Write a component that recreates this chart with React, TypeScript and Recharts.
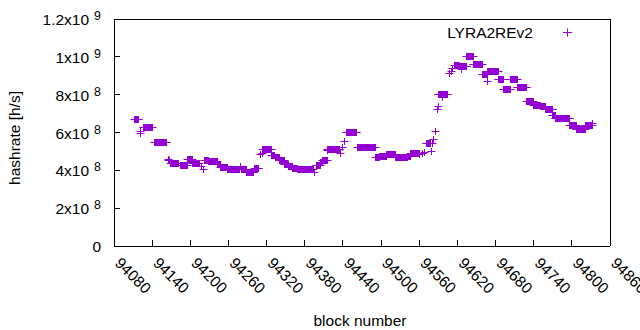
import React from 'react';
import { ScatterChart, Scatter, XAxis, YAxis } from 'recharts';

const SERIES_NAME = 'LYRA2REv2';
const COLOR = '#9400d3';
const FONT = '"Liberation Sans", Arial, sans-serif';

// x ticks (block numbers)
const X_TICKS = [94080, 94140, 94200, 94260, 94320, 94380, 94440, 94500, 94560, 94620, 94680, 94740, 94800, 94860];
// y ticks (hashrate) and their labels
const Y_TICKS = [0, 2e8, 4e8, 6e8, 8e8, 1e9, 1.2e9];
const Y_TICK_MANTISSA = ['0', '2', '4', '6', '8', '1', '1.2'];
const Y_TICK_EXP = ['', '8', '8', '8', '8', '9', '9'];

// runs of consecutive blocks with the same hashrate (value in units of 1e8 h/s)
const runStart = [94113, 94126, 94143, 94166, 94169, 94184, 94196, 94204, 94222, 94229,
  94242, 94248, 94259, 94281, 94289, 94301, 94314, 94328, 94334, 94340,
  94348, 94354, 94360, 94368, 94398, 94404, 94408, 94416, 94445, 94463,
  94492, 94498, 94508, 94522, 94541, 94547, 94571, 94590, 94616, 94624,
  94635, 94645, 94659, 94668, 94684, 94693, 94704, 94714, 94729, 94740,
  94750, 94758, 94770, 94774, 94797, 94808, 94821];
const runEnd = [94119, 94140, 94163, 94168, 94182, 94196, 94203, 94214, 94228, 94242,
  94248, 94259, 94277, 94289, 94300, 94308, 94328, 94333, 94340, 94348,
  94354, 94360, 94368, 94393, 94404, 94408, 94415, 94435, 94462, 94492,
  94498, 94508, 94522, 94541, 94547, 94560, 94578, 94605, 94624, 94635,
  94645, 94659, 94667, 94684, 94693, 94704, 94714, 94729, 94740, 94750,
  94758, 94770, 94774, 94797, 94808, 94821, 94832];
const runValue = [6.7, 6.26, 5.47, 4.5, 4.36, 4.23, 4.55, 4.36, 4.5, 4.47,
  4.33, 4.15, 4.04, 4.04, 3.89, 4.1, 5.1, 4.81, 4.67, 4.5,
  4.33, 4.2, 4.1, 4.04, 4.25, 4.4, 4.5, 5.1, 6.0, 5.2,
  4.68, 4.75, 4.86, 4.68, 4.75, 4.89, 5.4, 8.03, 9.54, 9.5,
  10.04, 9.57, 9.07, 9.25, 8.78, 8.27, 8.78, 8.38, 7.64, 7.44,
  7.35, 7.2, 6.9, 6.74, 6.35, 6.15, 6.38];

// isolated blocks
const singleBlock = [94121, 94122, 94165, 94217, 94220, 94279, 94311, 94313, 94396, 94415,
  94436, 94439, 94442, 94561, 94565, 94568, 94580, 94581, 94583, 94586,
  94588, 94590, 94597, 94607, 94610, 94613, 94626, 94668, 94833];
const singleValue = [6.05, 5.95, 4.55, 4.2, 4.07, 4.2, 4.86, 4.9, 3.9, 5.07,
  4.9, 5.2, 5.55, 4.86, 4.9, 4.92, 4.97, 5.4, 5.65, 6.03,
  7.2, 7.35, 7.85, 9.1, 9.25, 9.4, 9.35, 8.72, 6.48];

const data: { block: number; rate: number }[] = [];
runStart.forEach((s, i) => {
  for (let b = s; b <= runEnd[i]; b++) data.push({ block: b, rate: runValue[i] * 1e8 });
});
singleBlock.forEach((b, i) => data.push({ block: b, rate: singleValue[i] * 1e8 }));
data.sort((a, b) => a.block - b.block);

const Plus = (p: any) => {
  if (p.cx == null || p.cy == null) return null;
  const x = Math.round(p.cx - 0.5) + 0.5;
  const y = Math.round(p.cy - 0.5) + 0.5;
  return (
    <path d={`M${x - 4} ${y}H${x + 4}M${x} ${y - 3.5}V${y + 3.5}`} stroke={COLOR} strokeWidth={1} fill="none" />
  );
};

const BottomTick = (p: any) => {
  const { x, y, payload } = p;
  const ax = x;
  const ay = y + 18;
  return (
    <g>
      <line x1={x} x2={x} y1={y} y2={y - 6} stroke="#000" shapeRendering="crispEdges" />
      <text x={ax} y={ay} transform={`rotate(45 ${ax} ${ay})`} textAnchor="start" fontSize={15.5} fontFamily={FONT} fill="#000">
        {payload.value}
      </text>
    </g>
  );
};

const TopTick = (p: any) => {
  const { x, y } = p;
  return <line x1={x} x2={x} y1={y} y2={y + 6} stroke="#000" shapeRendering="crispEdges" />;
};

const LeftTick = (p: any) => {
  const { x, y, payload } = p;
  const i = Y_TICKS.indexOf(payload.value);
  const m = Y_TICK_MANTISSA[i];
  const e = Y_TICK_EXP[i];
  return (
    <g>
      <line x1={x} x2={x + 6} y1={y} y2={y} stroke="#000" shapeRendering="crispEdges" />
      <text x={x - 13} y={y + 6} textAnchor="end" fontSize={15.5} fontFamily={FONT} fill="#000">
        {e ? `${m}x10` : m}
        {e ? (
          <tspan dx={5} dy={-5} fontSize={12.4}>
            {e}
          </tspan>
        ) : null}
      </text>
    </g>
  );
};

const RightTick = (p: any) => {
  const { x, y } = p;
  return <line x1={x} x2={x - 6} y1={y} y2={y} stroke="#000" shapeRendering="crispEdges" />;
};

export default function App() {
  const axisLine = { stroke: '#000', shapeRendering: 'crispEdges' } as any;
  return (
    <div style={{ position: 'absolute', left: 0, top: 0, width: 640, height: 330, background: '#fff' }}>
      <ScatterChart width={640} height={330} margin={{ top: 0, right: 0, bottom: 0, left: 0 }}>
        <XAxis
          xAxisId="b"
          dataKey="block"
          type="number"
          domain={[94080, 94860]}
          ticks={X_TICKS}
          interval={0}
          height={84}
          tickSize={0}
          tickMargin={0}
          tickLine={false}
          axisLine={axisLine}
          tick={<BottomTick />}
        />
        <XAxis
          xAxisId="t"
          orientation="top"
          dataKey="block"
          type="number"
          domain={[94080, 94860]}
          ticks={X_TICKS}
          interval={0}
          height={19}
          tickSize={0}
          tickMargin={0}
          tickLine={false}
          axisLine={axisLine}
          tick={<TopTick />}
        />
        <YAxis
          yAxisId="l"
          dataKey="rate"
          type="number"
          domain={[0, 1.2e9]}
          ticks={Y_TICKS}
          interval={0}
          width={114}
          tickSize={0}
          tickMargin={0}
          tickLine={false}
          axisLine={axisLine}
          tick={<LeftTick />}
        />
        <YAxis
          yAxisId="r"
          orientation="right"
          dataKey="rate"
          type="number"
          domain={[0, 1.2e9]}
          ticks={Y_TICKS}
          interval={0}
          width={30}
          tickSize={0}
          tickMargin={0}
          tickLine={false}
          axisLine={axisLine}
          tick={<RightTick />}
        />
        <Scatter
          name={SERIES_NAME}
          data={data}
          xAxisId="b"
          yAxisId="l"
          shape={<Plus />}
          isAnimationActive={false}
        />
      </ScatterChart>
      <svg width={640} height={330} style={{ position: 'absolute', left: 0, top: 0, pointerEvents: 'none' }}>
        <text x={533} y={37.5} textAnchor="end" fontSize={15.5} fontFamily={FONT} fill="#000">
          {SERIES_NAME}
        </text>
        <path d="M563 32.5H572M567.5 28.5V36.5" stroke={COLOR} strokeWidth={1} fill="none" />
        <text x={360} y={325.5} textAnchor="middle" fontSize={15.5} fontFamily={FONT} fill="#000">
          block number
        </text>
        <text x={20} y={138} transform="rotate(-90 20 138)" textAnchor="middle" fontSize={15.5} fontFamily={FONT} fill="#000">
          hashrate [h/s]
        </text>
      </svg>
    </div>
  );
}
